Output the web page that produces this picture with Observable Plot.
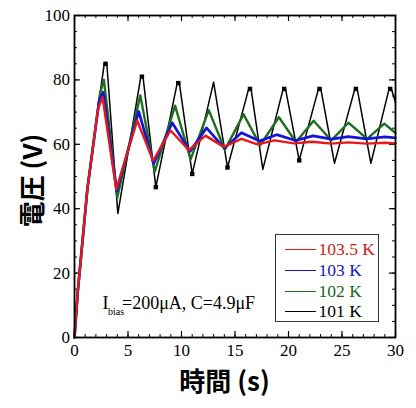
<!DOCTYPE html>
<html><head><meta charset="utf-8">
<script src="https://cdn.jsdelivr.net/npm/d3@7"></script>
<script src="https://cdn.jsdelivr.net/npm/@observablehq/plot@0.6"></script>
<style>
html,body{margin:0;padding:0;background:#fff;}
#wrap{position:relative;width:416px;height:408px;}
#legend{position:absolute;left:275px;top:234px;width:104px;height:88px;border:1px solid #333;box-sizing:border-box;background:#fff;}
.row{position:absolute;left:0;height:20px;display:flex;align-items:center;font-family:"Liberation Serif","Times New Roman",Times,"DejaVu Serif",serif;font-size:17.5px;}
.row .ln{display:inline-block;width:31px;height:0;border-top:1.3px solid;margin-left:8.5px;margin-right:3px;}
</style></head><body><div id="wrap"></div>
<script>
// 101 K (black)
const t101 = [0, 0.3, 1.2, 2.4, 2.78, 3.02, 4.05, 6.2, 6.4, 7.6, 9.6, 9.8, 11.0, 13.0, 14.3, 16.28, 16.5, 17.6, 19.5, 19.72, 21.0, 22.8, 23.02, 24.3, 26.2, 26.42, 27.7, 29.4, 29.62, 30];
const v101 = [0, 14, 46, 76, 85, 85, 38.5, 81, 81, 46.7, 79, 79, 50.8, 79.3, 52.8, 77.2, 77.2, 52.2, 77.2, 77.2, 55, 77.2, 77.2, 54.1, 77.2, 77.2, 54.1, 77.2, 77.2, 73];
// markers visible on black extremes
const sqT101 = [2.9, 6.3, 7.6, 9.7, 11.0, 14.3, 16.4, 19.6, 21.0, 22.9, 26.3, 29.5];
const sqV101 = [85, 81, 46.7, 79, 50.8, 52.8, 77.2, 77.2, 55, 77.2, 77.2, 77.2];
// 102 K (green)
const t102 = [0, 0.3, 1.2, 2.4, 2.75, 4.0, 6.15, 7.5, 9.4, 10.85, 12.55, 14.05, 15.8, 17.35, 19.1, 20.7, 22.35, 24.0, 25.6, 27.35, 28.95, 30];
const v102 = [0, 14, 46, 76, 80, 43.5, 75.2, 51.5, 72.0, 55.3, 70.6, 58.3, 69.3, 59.7, 68.4, 60.7, 67.3, 61.2, 66.7, 61.7, 66.4, 63.5];
// 103 K (blue)
const t103 = [0, 0.3, 1.2, 2.3, 2.68, 3.95, 6.0, 7.4, 9.13, 10.8, 12.34, 14.0, 15.6, 17.3, 18.9, 20.65, 22.3, 24.0, 25.6, 27.3, 29.0, 30];
const v103 = [0, 14, 46, 73.5, 76.2, 45.5, 70.2, 54.0, 66.7, 57.8, 65.1, 58.8, 63.6, 61.0, 63.0, 61.2, 62.6, 61.6, 62.4, 61.7, 62.3, 62.0];
// 103.5 K (red)
const t1035 = [0, 0.3, 1.2, 2.2, 2.62, 3.9, 5.86, 7.35, 8.97, 10.7, 12.24, 13.95, 15.6, 17.1, 18.7, 20.5, 22.2, 24.0, 25.6, 27.3, 29.0, 30];
const v1035 = [0, 14, 46, 71, 74.6, 46, 67.4, 54.9, 64.3, 58.2, 62.7, 59.2, 61.7, 60.0, 61.2, 60.3, 60.8, 60.2, 60.6, 60.2, 60.5, 60.3];

const seriesNames = ["103.5 K", "103 K", "102 K", "101 K"];
const seriesColors = ["#e31a1c", "#1414d8", "#1f6e1f", "#000000"];
const legendTextColors = ["#cc1a1a", "#1414c0", "#1d661d", "#000000"];
const xMajorTicks = [0, 5, 10, 15, 20, 25, 30];
const yMajorTicks = [0, 20, 40, 60, 80, 100];

const toRows = (ts, vs) => ts.map((t, i) => ({t, v: vs[i]}));
const rows101 = toRows(t101, v101);
const rows102 = toRows(t102, v102);
const rows103 = toRows(t103, v103);
const rows1035 = toRows(t1035, v1035);
const sq101 = toRows(sqT101, sqV101);

const W = 416, H = 408, mL = 74, mR = 21, mT = 15, mB = 71;
const fH = H - mT - mB, fW = W - mL - mR;
const xMinor = d3.range(0, 31, 1), yMinor = d3.range(0, 101, 5);
const serif = '"Liberation Serif", "Times New Roman", Times, "DejaVu Serif", serif';
const cjk = '"Noto Sans CJK JP", "Noto Sans CJK SC", sans-serif';

const chart = Plot.plot({
  width: W, height: H,
  marginLeft: mL, marginRight: mR, marginTop: mT, marginBottom: mB,
  x: {domain: [0, 30]},
  y: {domain: [0, 100]},
  style: {background: "#fff", fontFamily: serif},
  marks: [
    // inward ticks
    Plot.tickX(xMinor, {x: d => d, insetTop: fH - 3, stroke: "#000", strokeWidth: 1}),
    Plot.tickX(xMinor, {x: d => d, insetBottom: fH - 3, stroke: "#000", strokeWidth: 1}),
    Plot.tickX(xMajorTicks, {x: d => d, insetTop: fH - 6, stroke: "#000", strokeWidth: 1.2}),
    Plot.tickX(xMajorTicks, {x: d => d, insetBottom: fH - 6, stroke: "#000", strokeWidth: 1.2}),
    Plot.tickY(yMinor, {y: d => d, insetRight: fW - 3, stroke: "#000", strokeWidth: 1}),
    Plot.tickY(yMinor, {y: d => d, insetLeft: fW - 3, stroke: "#000", strokeWidth: 1}),
    Plot.tickY(yMajorTicks, {y: d => d, insetRight: fW - 6, stroke: "#000", strokeWidth: 1.2}),
    Plot.tickY(yMajorTicks, {y: d => d, insetLeft: fW - 6, stroke: "#000", strokeWidth: 1.2}),
    // series
    Plot.line(rows101, {x: "t", y: "v", stroke: seriesColors[3], strokeWidth: 1.5}),
    Plot.dot(sq101, {x: "t", y: "v", symbol: "square", fill: "#000", r: 2.5}),
    Plot.line(rows102, {x: "t", y: "v", stroke: seriesColors[2], strokeWidth: 2.4}),
    Plot.line(rows103, {x: "t", y: "v", stroke: seriesColors[1], strokeWidth: 2.7}),
    Plot.line(rows1035, {x: "t", y: "v", stroke: seriesColors[0], strokeWidth: 2.4}),
    Plot.frame({stroke: "#000", strokeWidth: 1.8}),
    // axes
    Plot.axisX(xMajorTicks, {tickSize: 0, tickPadding: 6.5, fontSize: 17, fontFamily: serif, fill: "#000", label: null}),
    Plot.axisY(yMajorTicks, {tickSize: 0, tickPadding: 4.5, fontSize: 17, fontFamily: serif, fill: "#000", label: null}),
    // titles
    Plot.text(["時間 (s)"], {text: d => d, frameAnchor: "bottom", dx: -10.5, dy: 45.5, lineAnchor: "middle", fontSize: 26, fontWeight: "bold", fontFamily: cjk, fill: "#000"}),
    Plot.text(["電圧 (V)"], {text: d => d, frameAnchor: "left", dx: -40.5, dy: 4, rotate: -90, lineAnchor: "middle", textAnchor: "middle", fontSize: 26, fontWeight: "bold", fontFamily: cjk, fill: "#000"}),
    // annotation
    Plot.text(["I"], {text: d => d, frameAnchor: "bottom-left", dx: 28, dy: -28.7, textAnchor: "start", lineAnchor: "bottom", fontSize: 18, fontFamily: serif, fill: "#000"}),
    Plot.text(["bias"], {text: d => d, frameAnchor: "bottom-left", dx: 33.5, dy: -22.5, textAnchor: "start", lineAnchor: "bottom", fontSize: 10, fontFamily: serif, fill: "#000"}),
    Plot.text(["=200μA, C=4.9μF"], {text: d => d, frameAnchor: "bottom-left", dx: 47.5, dy: -28.7, textAnchor: "start", lineAnchor: "bottom", fontSize: 18, fontFamily: serif, fill: "#000"})
  ]
});

const wrap = document.getElementById("wrap");
wrap.appendChild(chart);
const legend = document.createElement("div");
legend.id = "legend";
const rowCentres = [14.5, 35.5, 56.2, 76.5];
seriesNames.forEach((name, i) => {
  const r = document.createElement("div");
  r.className = "row";
  r.style.top = (rowCentres[i] - 10) + "px";
  r.style.color = legendTextColors[i];
  const ln = document.createElement("span");
  ln.className = "ln";
  ln.style.borderTopColor = seriesColors[i];
  r.appendChild(ln);
  r.appendChild(document.createTextNode(name));
  legend.appendChild(r);
});
wrap.appendChild(legend);
</script>
</body></html>
